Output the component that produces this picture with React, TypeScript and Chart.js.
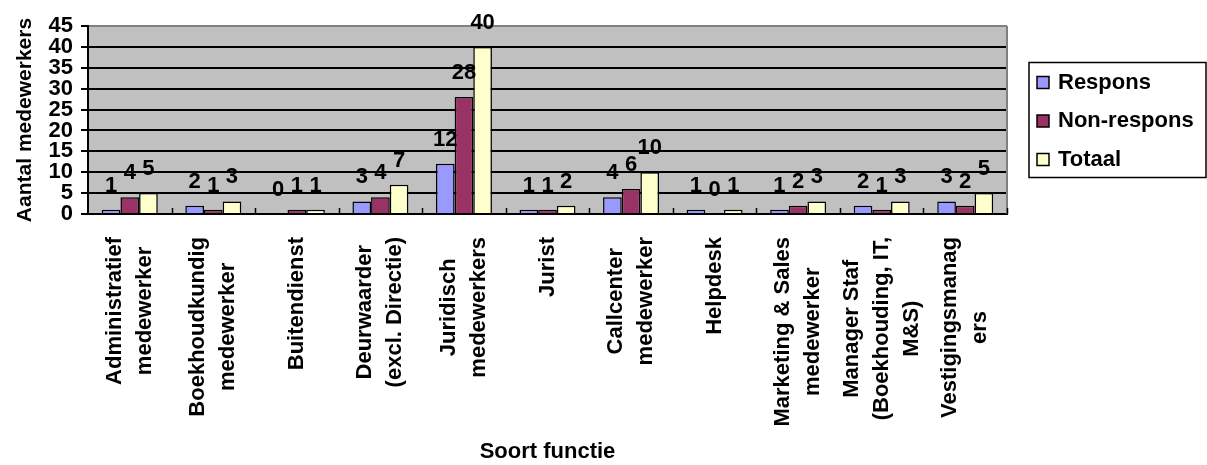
import React, { useEffect, useRef } from 'react';
import { Chart, registerables } from 'chart.js';

Chart.register(...registerables);

// Job categories (each entry is the wrapped label, one string per line)
const categories: string[][] = [
  ['Administratief', 'medewerker'],
  ['Boekhoudkundig', 'medewerker'],
  ['Buitendienst'],
  ['Deurwaarder', '(excl. Directie)'],
  ['Juridisch', 'medewerkers'],
  ['Jurist'],
  ['Callcenter', 'medewerker'],
  ['Helpdesk'],
  ['Marketing & Sales', 'medewerker'],
  ['Manager Staf', '(Boekhouding, IT,', 'M&S)'],
  ['Vestigingsmanag', 'ers'],
];

const respons = [1, 2, 0, 3, 12, 1, 4, 1, 1, 2, 3];
const nonRespons = [4, 1, 1, 4, 28, 1, 6, 0, 2, 1, 2];
const totaal = [5, 3, 1, 7, 40, 2, 10, 1, 3, 3, 5];

const seriesNames = ['Respons', 'Non-respons', 'Totaal'];
const seriesColors = ['#9999FF', '#993366', '#FFFFCC'];

const yMin = 0;
const yMax = 45;
const yStep = 5;

const yTitle = 'Aantal medewerkers';
const xTitle = 'Soort functie';

const FAMILY = "'Liberation Sans', Arial, Helvetica, sans-serif";
const boldFont = (px: number) => `bold ${px}px ${FAMILY}`;

const TEXT_SIZE = 22;
const LABEL_LINE_PITCH = 30;
const LABEL_GAP = 23;
const VALUE_GAP = 18;

Chart.defaults.font.family = FAMILY;

// Grey plot area
const plotBackgroundPlugin = {
  id: 'plotBackground',
  beforeDraw(chart: any) {
    const { ctx, chartArea: a } = chart;
    ctx.save();
    ctx.fillStyle = '#C0C0C0';
    ctx.fillRect(a.left, a.top, a.right - a.left, a.bottom - a.top);
    ctx.restore();
  },
};

// Value labels above each bar
const valueLabelsPlugin = {
  id: 'valueLabels',
  afterDatasetsDraw(chart: any) {
    const { ctx } = chart;
    ctx.save();
    ctx.font = boldFont(TEXT_SIZE);
    ctx.fillStyle = '#000';
    ctx.textAlign = 'center';
    ctx.textBaseline = 'alphabetic';
    chart.data.datasets.forEach((ds: any, di: number) => {
      const meta = chart.getDatasetMeta(di);
      meta.data.forEach((bar: any, i: number) => {
        ctx.fillText(String(ds.data[i]), bar.x, bar.y - VALUE_GAP);
      });
    });
    ctx.restore();
  },
};

// Right border, inner category tick marks, rotated category labels and legend
const decorationsPlugin = {
  id: 'decorations',
  afterDraw(chart: any) {
    const { ctx, chartArea: a } = chart;
    const xs = chart.scales.x;

    ctx.save();
    // right plot border
    ctx.strokeStyle = '#808080';
    ctx.lineWidth = 2;
    ctx.beginPath();
    ctx.moveTo(a.right, a.top);
    ctx.lineTo(a.right, a.bottom);
    ctx.stroke();

    // tick marks between categories, pointing into the plot
    const step = xs.getPixelForValue(1) - xs.getPixelForValue(0);
    ctx.strokeStyle = '#000';
    ctx.lineWidth = 1.5;
    for (let i = 0; i < categories.length; i++) {
      const bx = Math.round(xs.getPixelForValue(i) + step / 2) + 0.5;
      ctx.beginPath();
      ctx.moveTo(bx, a.bottom);
      ctx.lineTo(bx, a.bottom - 6);
      ctx.stroke();
    }

    // category labels, rotated, lines centred on each other
    ctx.font = boldFont(TEXT_SIZE);
    ctx.fillStyle = '#000';
    ctx.textAlign = 'center';
    ctx.textBaseline = 'middle';
    categories.forEach((lines, i) => {
      const cx = xs.getPixelForValue(i);
      const maxW = Math.max(...lines.map((l) => ctx.measureText(l).width));
      const cy = a.bottom + LABEL_GAP + maxW / 2;
      lines.forEach((line, j) => {
        ctx.save();
        ctx.translate(cx + (j - (lines.length - 1) / 2) * LABEL_LINE_PITCH, cy);
        ctx.rotate(-Math.PI / 2);
        ctx.fillText(line, 0, 0);
        ctx.restore();
      });
    });

    // legend box
    const midY = (a.top + a.bottom) / 2;
    const boxH = 115;
    const left = a.right + 22;
    const top = midY - boxH / 2;
    const right = chart.width - 1;
    ctx.fillStyle = '#FFFFFF';
    ctx.fillRect(left, top, right - left, boxH);
    ctx.strokeStyle = '#000';
    ctx.lineWidth = 1.5;
    ctx.strokeRect(left, top, right - left, boxH);
    const rowPitch = 38.5;
    chart.data.datasets.forEach((ds: any, di: number) => {
      const ry = top + 20 + di * rowPitch;
      ctx.fillStyle = ds.backgroundColor;
      ctx.fillRect(left + 8, ry - 6, 12, 12);
      ctx.strokeStyle = '#000';
      ctx.lineWidth = 1.5;
      ctx.strokeRect(left + 8, ry - 6, 12, 12);
      ctx.fillStyle = '#000';
      ctx.textAlign = 'left';
      ctx.textBaseline = 'middle';
      ctx.fillText(ds.label, left + 29, ry);
    });
    ctx.restore();
  },
};

export default function App() {
  const canvasRef = useRef<HTMLCanvasElement>(null);

  useEffect(() => {
    document.body.style.margin = '0';
    const canvas = canvasRef.current;
    if (!canvas) return;

    const seriesData = [respons, nonRespons, totaal];

    const chart = new Chart(canvas, {
      type: 'bar',
      data: {
        labels: categories.map((c) => c.join(' ')),
        datasets: seriesData.map((d, i) => ({
          label: seriesNames[i],
          data: d,
          backgroundColor: seriesColors[i],
          borderColor: '#000000',
          borderWidth: 1.5,
          categoryPercentage: 0.67,
          barPercentage: 1,
        })),
      },
      options: {
        responsive: false,
        animation: false,
        layout: { padding: { left: 0, right: 200, top: 26, bottom: 0 } },
        plugins: {
          legend: { display: false },
          tooltip: { enabled: false },
        },
        scales: {
          x: {
            grid: { display: false },
            border: { display: true, color: '#000000', width: 2 },
            ticks: { display: false },
            title: {
              display: true,
              text: xTitle,
              color: '#000000',
              font: { family: FAMILY, size: TEXT_SIZE, weight: 'bold' },
              padding: { top: 0, bottom: 0 },
            },
            afterFit: (s: any) => {
              s.height = 251;
            },
          },
          y: {
            min: yMin,
            max: yMax,
            ticks: {
              stepSize: yStep,
              autoSkip: false,
              color: '#000000',
              font: { family: FAMILY, size: TEXT_SIZE, weight: 'bold' },
              padding: 8,
            },
            grid: {
              color: (c: any) => (c.tick && c.tick.value === yMax ? '#808080' : '#000000'),
              lineWidth: 2,
              tickLength: 7,
              tickColor: '#000000',
            },
            border: { display: true, color: '#000000', width: 2 },
            title: {
              display: true,
              text: yTitle,
              color: '#000000',
              font: { family: FAMILY, size: 21, weight: 'bold' },
              padding: { top: 13, bottom: 0 },
            },
            afterFit: (s: any) => {
              s.width = 88;
            },
          },
        },
      } as any,
      plugins: [plotBackgroundPlugin, valueLabelsPlugin, decorationsPlugin],
    });

    return () => chart.destroy();
  }, []);

  return <canvas ref={canvasRef} width={1207} height={465} style={{ display: 'block' }} />;
}
